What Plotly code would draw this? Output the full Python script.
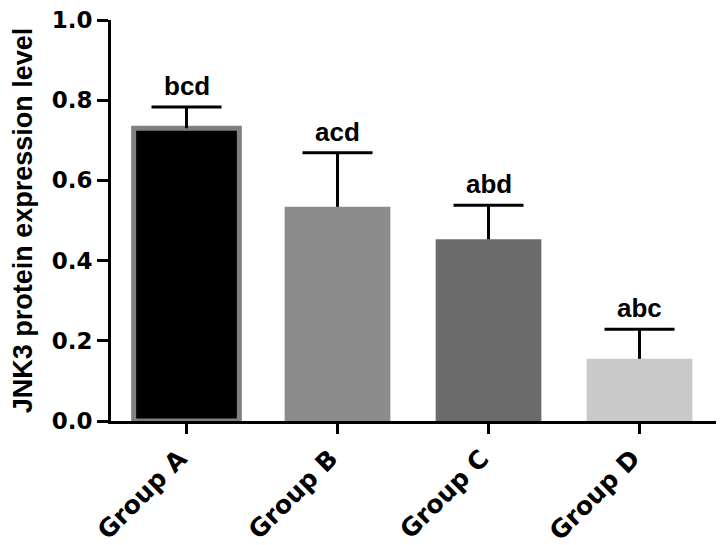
import plotly.graph_objects as go

groups = ["Group A", "Group B", "Group C", "Group D"]
means = [0.73, 0.534, 0.453, 0.155]
sds = [0.053, 0.135, 0.085, 0.074]
letters = ["bcd", "acd", "abd", "abc"]
fill_colors = ["#000000", "#8c8c8c", "#6b6b6b", "#c9c9c9"]
line_colors = ["#808080", "#8c8c8c", "#6b6b6b", "#c9c9c9"]
y_ticks = [0.0, 0.2, 0.4, 0.6, 0.8, 1.0]

arial = "Liberation Sans, Arial, sans-serif"
wide = "DejaVu Sans, Verdana, sans-serif"

tops = [m + s for m, s in zip(means, sds)]

fig = go.Figure()
fig.add_trace(go.Bar(
    x=groups, y=means,
    width=0.70,
    marker=dict(color=fill_colors, line=dict(color=line_colors, width=[5, 0, 0, 0])),
    error_y=dict(type="data", array=sds, arrayminus=[0] * 4, symmetric=False,
                 color="black", thickness=3, width=0),
))
# error-bar caps (upper only)
fig.add_trace(go.Scatter(
    x=groups, y=tops, mode="markers",
    marker=dict(symbol="line-ew", size=50, line=dict(color="black", width=3)),
    hoverinfo="skip",
))

for g, t, lab in zip(groups, tops, letters):
    fig.add_annotation(x=g, y=t, text="<b>%s</b>" % lab, showarrow=False,
                       yanchor="bottom", yshift=4,
                       font=dict(family=arial, size=26, color="black"))

fig.update_layout(
    width=716, height=537,
    margin=dict(l=103, r=4, t=12, b=124),
    plot_bgcolor="white", paper_bgcolor="white",
    showlegend=False,
    font=dict(family=arial, color="black"),
    xaxis=dict(range=[-0.5, 3.533], showline=True, linecolor="black", linewidth=3,
               ticks="outside", ticklen=10, tickwidth=3, tickcolor="black",
               tickangle=-45, tickfont=dict(size=25, family=wide),
               ticklabelshift=-7,
               showgrid=False, zeroline=False, automargin=False,
               ticklabeloverflow="allow",
               tickvals=groups, ticktext=["<b>%s</b>" % g for g in groups]),
    yaxis=dict(range=[0, 1.0], showline=True, linecolor="black", linewidth=3,
               ticks="outside", ticklen=11, tickwidth=3, tickcolor="black",
               tickvals=y_ticks, ticktext=["<b>%.1f</b>" % v for v in y_ticks],
               tickfont=dict(size=23, family=wide),
               showgrid=False, zeroline=False, automargin=False,
               ticklabeloverflow="allow",
               title=dict(text="<b>JNK3 protein expression level</b>",
                          font=dict(size=27, family=arial), standoff=12)),
)

fig.write_html("out.html")
